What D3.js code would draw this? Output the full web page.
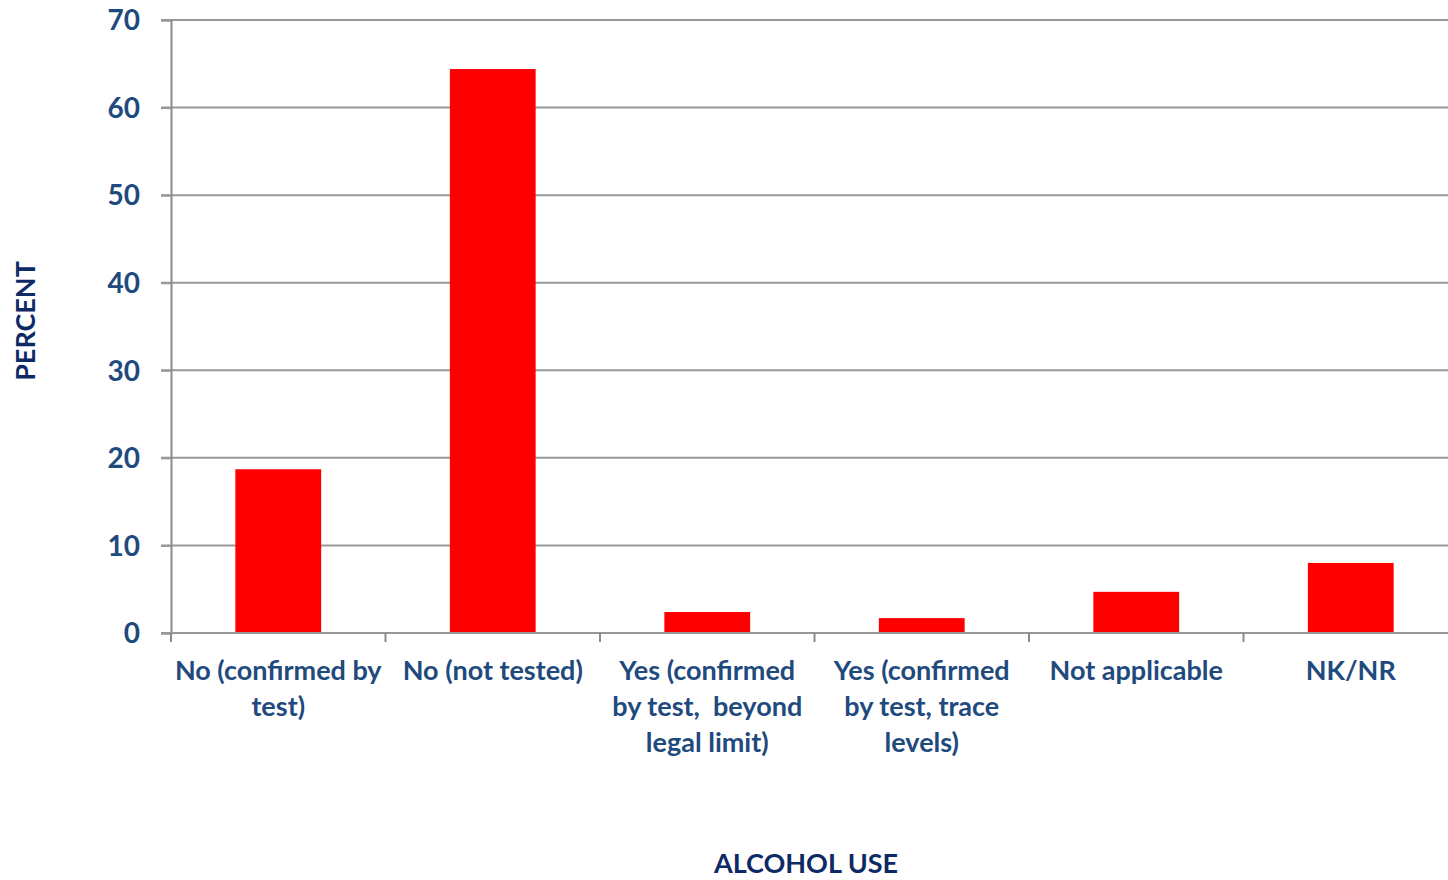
<!DOCTYPE html>
<html>
<head>
<meta charset="utf-8">
<script src="https://cdn.jsdelivr.net/npm/d3@7"></script>
<style>
  body { margin: 0; background: #fff; }
  text { font-family: Lato, "Open Sans", sans-serif; font-weight: bold; white-space: pre; }
</style>
</head>
<body>
<div id="chart"></div>
<script>
// Data
const categories = [
  ["No (confirmed by", "test)"],
  ["No (not tested)"],
  ["Yes (confirmed", "by test,  beyond", "legal limit)"],
  ["Yes (confirmed", "by test, trace", "levels)"],
  ["Not applicable"],
  ["NK/NR"]
];
const values = [18.7, 64.4, 2.4, 1.7, 4.7, 8.0];
const yTicks = [0, 10, 20, 30, 40, 50, 60, 70];

const W = 1448, H = 880;
const margin = { top: 20, left: 171, bottom: 247 };
const plotRight = 1458;

const svg = d3.select("#chart").append("svg")
  .attr("width", W).attr("height", H);

const keys = categories.map((c, i) => i);

const x = d3.scaleBand()
  .domain(keys)
  .range([margin.left, plotRight])
  .padding(0);

const y = d3.scaleLinear()
  .domain([0, 70])
  .range([H - margin.bottom, margin.top]);

// Gridlines
svg.append("g")
  .selectAll("line")
  .data(yTicks.filter(d => d > 0))
  .enter().append("line")
  .attr("x1", margin.left - 10).attr("x2", W)
  .attr("y1", d => y(d)).attr("y2", d => y(d))
  .attr("stroke", "#989898").attr("stroke-width", 2);

// Bars
const barW = x.bandwidth() * 0.4;
svg.selectAll(".bar")
  .data(values)
  .enter().append("rect")
  .attr("class", "bar")
  .attr("x", (d, i) => x(i) + (x.bandwidth() - barW) / 2)
  .attr("width", barW)
  .attr("y", d => y(d))
  .attr("height", d => y(0) - y(d))
  .attr("fill", "#ff0000");

// Y axis
const yAxis = svg.append("g")
  .attr("transform", `translate(${margin.left},0)`)
  .call(d3.axisLeft(y).tickValues(yTicks).tickSize(10).tickPadding(21));
yAxis.select(".domain").attr("stroke", "#8a8a8a").attr("stroke-width", 2);
yAxis.selectAll(".tick line").attr("stroke", "#989898").attr("stroke-width", 2);
yAxis.selectAll("text")
  .attr("fill", "#1f4a7e")
  .style("font-size", "28px")
  .attr("dy", "0.35em");

// X axis baseline and ticks at category boundaries
svg.append("line")
  .attr("x1", margin.left - 10).attr("x2", W)
  .attr("y1", y(0)).attr("y2", y(0))
  .attr("stroke", "#989898").attr("stroke-width", 2);
svg.append("g")
  .selectAll("line")
  .data(keys)
  .enter().append("line")
  .attr("x1", d => x(d)).attr("x2", d => x(d))
  .attr("y1", y(0)).attr("y2", y(0) + 9)
  .attr("stroke", "#8a8a8a").attr("stroke-width", 2);

// Category labels
const lab = svg.append("g")
  .selectAll("text")
  .data(categories)
  .enter().append("text")
  .attr("x", (d, i) => x(i) + x.bandwidth() / 2)
  .attr("y", y(0) + 47)
  .attr("text-anchor", "middle")
  .attr("fill", "#1f4a7e")
  .style("font-size", "27px");
lab.selectAll("tspan")
  .data(d => d)
  .enter().append("tspan")
  .attr("x", function () { return this.parentNode.getAttribute("x"); })
  .attr("dy", (d, i) => i === 0 ? 0 : 36)
  .text(d => d);

// Axis titles
svg.append("text")
  .attr("transform", `translate(35,321) rotate(-90)`)
  .attr("text-anchor", "middle")
  .attr("fill", "#0d2a66")
  .style("font-size", "27px")
  .text("PERCENT");

svg.append("text")
  .attr("x", 806).attr("y", 873)
  .attr("text-anchor", "middle")
  .attr("fill", "#0d2a66")
  .style("font-size", "27px")
  .text("ALCOHOL USE");
</script>
</body>
</html>
